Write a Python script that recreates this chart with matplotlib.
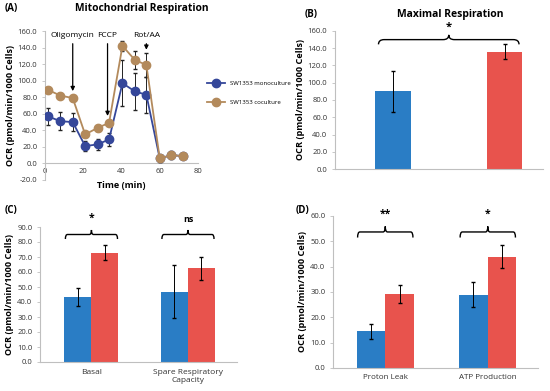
import matplotlib
matplotlib.use('Agg')
import matplotlib.pyplot as plt
import numpy as np
from matplotlib.path import Path
from matplotlib.patches import PathPatch

plt.rcParams['font.family'] = ['Open Sans', 'DejaVu Sans']

# DATA -------------------------------------------------------------
time_min = [1.5, 8, 14.5, 21, 27.5, 33.5, 40.5, 47, 53, 60, 66, 72]
mono_ocr = [57, 51, 50, 21, 23, 29, 97, 87, 83, 6, 10, 9]
mono_err = [10, 11, 11, 6, 7, 8, 28, 22, 22, 4, 4, 3]
co_ocr = [89, 82, 79, 35, 43, 49, 142, 125, 119, 6, 10, 9]
co_err = [3, 3, 3, 3, 4, 4, 6, 11, 15, 4, 5, 4]
inj_names = ['Oligomycin', 'FCCP', 'Rot/AA']
inj_time = [14.5, 32.7, 53]
inj_tip = [84, 54, 134]

max_resp = [90, 136]
max_err = [23.5, 9]

c_cats = ['Basal', 'Spare Respiratory\nCapacity']
c_mono = [43.5, 47]
c_mono_err = [6, 17.5]
c_co = [73, 62.5]
c_co_err = [5, 7.5]
c_sig = ['*', 'ns']

d_cats = ['Proton Leak', 'ATP Production']
d_mono = [14.5, 29]
d_mono_err = [3, 5]
d_co = [29.3, 44]
d_co_err = [3.5, 4.5]
d_sig = ['**', '*']
# ------------------------------------------------------------------

BLUE = '#2a7dc5'
RED = '#e8534d'
MONO = '#35479a'
CO = '#b38a5c'
GREY = '#bfbfbf'
TICK = 5.5
LAB = 6.6

W, H = 550, 391
fig = plt.figure(figsize=(5.5, 3.91), dpi=100)

def add_ax(l, r, t, b):
    return fig.add_axes([l / W, (H - b) / H, (r - l) / W, (b - t) / H])

def style(ax):
    for s in ['top', 'right']:
        ax.spines[s].set_visible(False)
    ax.spines['left'].set_color(GREY)
    ax.spines['bottom'].set_color(GREY)
    ax.spines['left'].set_linewidth(0.8)
    ax.spines['bottom'].set_linewidth(0.8)
    ax.tick_params(labelsize=TICK, colors='#333333', length=2, width=0.6)
    ax.tick_params(axis='y', colors=GREY, labelcolor='#333333')
    ax.tick_params(axis='x', length=0)
    ax.yaxis.set_major_formatter(matplotlib.ticker.FormatStrFormatter('%.1f'))
    ax.set_ylabel('OCR (pmol/min/1000 Cells)', fontsize=LAB, fontweight='bold', labelpad=2)

def brace(ax, x0, x1, y, h):
    # curly bracket, ends hang down, middle points up
    xm = (x0 + x1) / 2
    r = (x1 - x0) * 0.04
    verts = [(x0, y - h), (x0, y), (x0 + r, y),
             (xm - r, y), (xm, y), (xm, y + h),
             (xm, y), (xm + r, y),
             (x1 - r, y), (x1, y), (x1, y - h)]
    codes = [Path.MOVETO, Path.CURVE3, Path.CURVE3,
             Path.LINETO, Path.CURVE3, Path.CURVE3,
             Path.CURVE3, Path.CURVE3,
             Path.LINETO, Path.CURVE3, Path.CURVE3]
    ax.add_patch(PathPatch(Path(verts, codes), fill=False, lw=1.0, color='black', clip_on=False))

# (A) --------------------------------------------------------------
axA = add_ax(45, 198, 31, 180)
style(axA)
axA.errorbar(time_min, mono_ocr, yerr=mono_err, color=MONO, marker='o', ms=6, lw=1.3,
             ecolor='#222222', elinewidth=0.7, capsize=1.5, label='SW1353 monoculture', zorder=3)
axA.errorbar(time_min, co_ocr, yerr=co_err, color=CO, marker='o', ms=6, lw=1.3,
             ecolor='#222222', elinewidth=0.7, capsize=1.5, label='SW1353 coculture', zorder=4)
axA.set_xlim(0, 80)
axA.set_ylim(-20, 160)
axA.set_xticks(np.arange(0, 81, 20))
axA.set_yticks(np.arange(-20, 161, 20))
axA.spines['bottom'].set_position(('data', 0))
axA.set_xlabel('Time (min)', fontsize=LAB, fontweight='bold')
axA.xaxis.set_label_coords(0.5, -0.01)
for name, t, tip in zip(inj_names, inj_time, inj_tip):
    axA.annotate('', xy=(t, tip), xytext=(t, 148),
                 arrowprops=dict(arrowstyle='-|>', color='black', lw=0.9, mutation_scale=6))
    axA.text(t, 150, name, ha='center', va='bottom', fontsize=6)
fig.legend(*axA.get_legend_handles_labels(), loc='center left', bbox_to_anchor=(202 / W, 1 - 93 / H),
           fontsize=4.3, frameon=False, handlelength=3, labelspacing=2.2)
fig.text(5 / W, 1 - 9 / H, '(A)', fontsize=7, fontweight='bold', va='center')
fig.text(142 / W, 1 - 9 / H, 'Mitochondrial Respiration', fontsize=7.4, fontweight='bold',
         va='center', ha='center')

# (B) --------------------------------------------------------------
axB = add_ax(335, 543, 31, 169)
style(axB)
xb = np.arange(len(max_resp))
axB.bar(xb, max_resp, width=0.315, color=[BLUE, RED], zorder=2)
axB.errorbar(xb, max_resp, yerr=max_err, fmt='none', ecolor='black', elinewidth=0.7, capsize=1.5, zorder=3)
axB.set_xlim(-0.52, 1.345)
axB.set_ylim(0, 160)
axB.set_yticks(np.arange(0, 161, 20))
axB.set_xticks([])
brace(axB, -0.13, 1.13, 150, 5.5)
axB.text(0.5, 158, '*', ha='center', va='bottom', fontsize=8, fontweight='bold')
fig.text(305 / W, 1 - 15 / H, '(B)', fontsize=7, fontweight='bold', va='center')
fig.text(450 / W, 1 - 14 / H, 'Maximal Respiration', fontsize=7.5, fontweight='bold',
         va='center', ha='center')

# (C) --------------------------------------------------------------
axC = add_ax(40, 237, 227, 362)
style(axC)
xc = np.arange(len(c_cats))
bw = 0.28
axC.bar(xc - bw / 2, c_mono, width=bw, color=BLUE, zorder=2)
axC.bar(xc + bw / 2, c_co, width=bw, color=RED, zorder=2)
axC.errorbar(xc - bw / 2, c_mono, yerr=c_mono_err, fmt='none', ecolor='black', elinewidth=0.7, capsize=1.5, zorder=3)
axC.errorbar(xc + bw / 2, c_co, yerr=c_co_err, fmt='none', ecolor='black', elinewidth=0.7, capsize=1.5, zorder=3)
axC.set_xlim(-0.533, 1.508)
axC.set_ylim(0, 90)
axC.set_yticks(np.arange(0, 91, 10))
axC.set_xticks(xc)
axC.set_xticklabels(c_cats, fontsize=6)
axC.tick_params(axis='x', pad=5)
for x, s in zip(xc, c_sig):
    brace(axC, x - 0.27, x + 0.27, 85, 3)
    axC.text(x, 92, s, ha='center', va='bottom', fontsize=7.5 if s == '*' else 6.5, fontweight='bold')
fig.text(5 / W, 1 - 210 / H, '(C)', fontsize=7, fontweight='bold', va='center')

# (D) --------------------------------------------------------------
axD = add_ax(333, 538, 216, 368)
style(axD)
xd = np.arange(len(d_cats))
axD.bar(xd - bw / 2, d_mono, width=bw, color=BLUE, zorder=2)
axD.bar(xd + bw / 2, d_co, width=bw, color=RED, zorder=2)
axD.errorbar(xd - bw / 2, d_mono, yerr=d_mono_err, fmt='none', ecolor='black', elinewidth=0.7, capsize=1.5, zorder=3)
axD.errorbar(xd + bw / 2, d_co, yerr=d_co_err, fmt='none', ecolor='black', elinewidth=0.7, capsize=1.5, zorder=3)
axD.set_xlim(-0.51, 1.49)
axD.set_ylim(0, 60)
axD.set_yticks(np.arange(0, 61, 10))
axD.set_xticks(xd)
axD.set_xticklabels(d_cats, fontsize=5.8)
axD.tick_params(axis='x', pad=4)
for x, s in zip(xd, d_sig):
    brace(axD, x - 0.27, x + 0.27, 53.7, 2.2)
    axD.text(x, 58.5, s, ha='center', va='bottom', fontsize=7.5, fontweight='bold')
fig.text(296 / W, 1 - 210 / H, '(D)', fontsize=7, fontweight='bold', va='center')

fig.savefig('out.png', dpi=100)
